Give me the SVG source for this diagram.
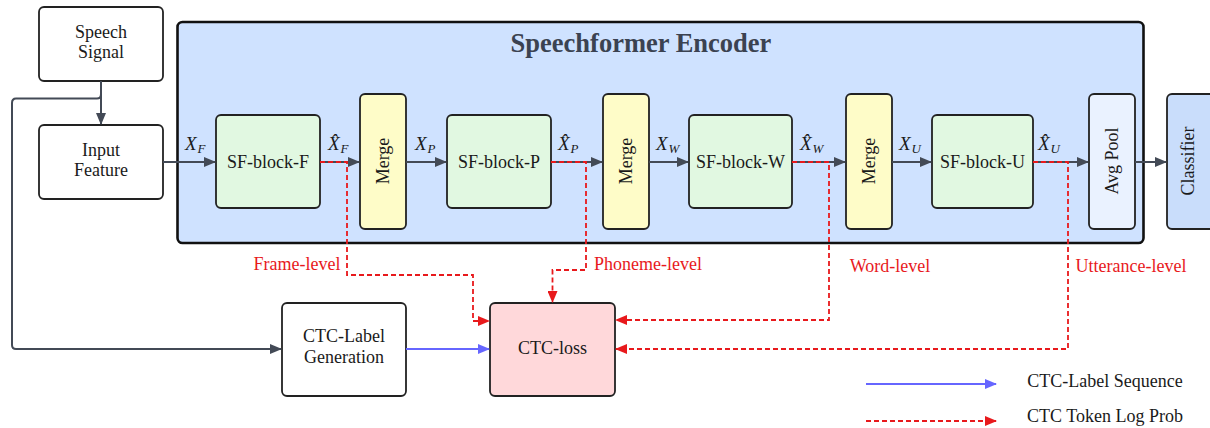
<svg xmlns="http://www.w3.org/2000/svg" width="1210" height="428" viewBox="0 0 1210 428" font-family="'Liberation Serif', 'Times New Roman', serif">
<defs>
<marker id="ag" markerWidth="12" markerHeight="10" refX="11" refY="5" orient="auto" markerUnits="userSpaceOnUse"><path d="M0,0 L12,5 L0,10 z" fill="#434a56"/></marker>
<marker id="ar" markerWidth="12" markerHeight="10" refX="11" refY="5" orient="auto" markerUnits="userSpaceOnUse"><path d="M0,0 L12,5 L0,10 z" fill="#e8191c"/></marker>
<marker id="ab" markerWidth="12" markerHeight="10" refX="11" refY="5" orient="auto" markerUnits="userSpaceOnUse"><path d="M0,0 L12,5 L0,10 z" fill="#6666ff"/></marker>
</defs>
<style>
text{font-family:'Liberation Serif','Times New Roman',serif;font-size:18px;fill:#1a1a1a;text-anchor:middle}
.box{stroke:#222;stroke-width:1.8}
.g{stroke:#434a56;stroke-width:2;fill:none}
.r{stroke:#e8191c;stroke-width:1.8;fill:none;stroke-dasharray:5,3}
.b{stroke:#6666ff;stroke-width:1.8;fill:none}
.red{fill:#e8191c}
.m{font-style:italic;font-size:19px;text-anchor:start}
.s{font-size:13px;font-style:italic}
.title{font-weight:bold;font-size:26.5px;fill:#3b4251}
</style>
<rect width="1210" height="428" fill="#fff"/>

<g id="encoder">
<rect x="177.5" y="22" width="966" height="221" rx="5" fill="#cfe2ff" stroke="#111" stroke-width="2.6"/>
<text class="title" x="641" y="52">Speechformer Encoder</text>
</g>

<g id="speech-signal"><rect class="box" x="39" y="7" width="124" height="74" rx="5" fill="#fff"/><text x="101" y="38">Speech</text><text x="101" y="58">Signal</text></g>
<g id="input-feature"><rect class="box" x="39" y="125" width="124" height="74" rx="5" fill="#fff"/><text x="101" y="156">Input</text><text x="101" y="176">Feature</text></g>

<g id="sf-block-f"><rect class="box" x="216" y="115" width="104" height="93" rx="5" fill="#e1f8e1"/><text x="268" y="168">SF-block-F</text></g>
<g id="merge-1"><rect class="box" x="360" y="94" width="46" height="135" rx="5" fill="#fefcc8"/><text transform="translate(389,161) rotate(-90)">Merge</text></g>
<g id="sf-block-p"><rect class="box" x="447" y="115" width="104" height="93" rx="5" fill="#e1f8e1"/><text x="499" y="168">SF-block-P</text></g>
<g id="merge-2"><rect class="box" x="603" y="94" width="46" height="135" rx="5" fill="#fefcc8"/><text transform="translate(632,161) rotate(-90)">Merge</text></g>
<g id="sf-block-w"><rect class="box" x="689" y="115" width="103" height="93" rx="5" fill="#e1f8e1"/><text x="740.5" y="168">SF-block-W</text></g>
<g id="merge-3"><rect class="box" x="846" y="94" width="46" height="135" rx="5" fill="#fefcc8"/><text transform="translate(875,161) rotate(-90)">Merge</text></g>
<g id="sf-block-u"><rect class="box" x="932" y="115" width="101" height="93" rx="5" fill="#e1f8e1"/><text x="982.5" y="168">SF-block-U</text></g>
<g id="avg-pool"><rect class="box" x="1089" y="94" width="46" height="135" rx="5" fill="#eaf2ff"/><text transform="translate(1118,161) rotate(-90)">Avg Pool</text></g>
<g id="classifier"><rect class="box" x="1167" y="94" width="50" height="135" rx="5" fill="#c9ddfb"/><text transform="translate(1194,161) rotate(-90)">Classifier</text></g>

<g id="ctc-label-generation"><rect class="box" x="282" y="303" width="124" height="93" rx="5" fill="#fff"/><text x="344" y="342">CTC-Label</text><text x="344" y="363">Generation</text></g>
<g id="ctc-loss"><rect class="box" x="490" y="303" width="125" height="93" rx="5" fill="#ffd8da"/><text x="552.5" y="354">CTC-loss</text></g>

<g id="connectors">
<path class="g" d="M101,81 V124" marker-end="url(#ag)"/>
<path class="g" d="M101,81 V94 Q101,98.5 97,98.5 H16 Q12,98.5 12,103 V345 Q12,349 16,349 H281" marker-end="url(#ag)"/>
<path class="g" d="M163,162 H215" marker-end="url(#ag)"/>
<path class="g" d="M320,162 H359" marker-end="url(#ag)"/>
<path class="g" d="M406,162 H446" marker-end="url(#ag)"/>
<path class="g" d="M551,162 H602" marker-end="url(#ag)"/>
<path class="g" d="M649,162 H688" marker-end="url(#ag)"/>
<path class="g" d="M792,162 H845" marker-end="url(#ag)"/>
<path class="g" d="M892,162 H931" marker-end="url(#ag)"/>
<path class="g" d="M1033,162 H1088" marker-end="url(#ag)"/>
<path class="g" d="M1135,162 H1166" marker-end="url(#ag)"/>
<path class="r" d="M320,162 H347 V275 H473 V321 H489" marker-end="url(#ar)"/>
<path class="r" d="M551,162 H586 V270 H552.5 V302" marker-end="url(#ar)"/>
<path class="r" d="M792,162 H829 V320 H616" marker-end="url(#ar)"/>
<path class="r" d="M1033,162 H1068 V349 H616" marker-end="url(#ar)"/>
<path class="b" d="M406,349 H489" marker-end="url(#ab)"/>
</g>

<g id="math-labels">
<text class="m" x="185" y="150">X<tspan class="s" dx="1" dy="3">F</tspan></text>
<text class="m" x="328" y="150">X̂<tspan class="s" dx="1" dy="3">F</tspan></text>
<text class="m" x="415" y="150">X<tspan class="s" dx="1" dy="3">P</tspan></text>
<text class="m" x="558" y="150">X̂<tspan class="s" dx="1" dy="3">P</tspan></text>
<text class="m" x="656" y="150">X<tspan class="s" dx="1" dy="3">W</tspan></text>
<text class="m" x="800" y="150">X̂<tspan class="s" dx="1" dy="3">W</tspan></text>
<text class="m" x="899" y="150">X<tspan class="s" dx="1" dy="3">U</tspan></text>
<text class="m" x="1038" y="150">X̂<tspan class="s" dx="1" dy="3">U</tspan></text>
</g>

<g id="level-labels">
<text class="red" x="297" y="270">Frame-level</text>
<text class="red" x="648" y="270">Phoneme-level</text>
<text class="red" x="890" y="272">Word-level</text>
<text class="red" x="1131" y="272">Utterance-level</text>
</g>

<g id="legend">
<path class="b" d="M866,384 H996" marker-end="url(#ab)"/>
<text x="1105" y="387">CTC-Label Sequence</text>
<path class="r" d="M866,421 H996" marker-end="url(#ar)"/>
<text x="1105" y="422">CTC Token Log Prob</text>
</g>
</svg>
